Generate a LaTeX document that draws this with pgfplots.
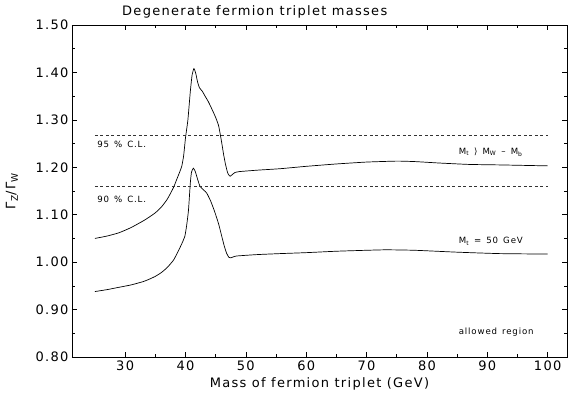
\documentclass[border=0pt]{standalone}
\usepackage{pgfplots}
\pgfplotsset{compat=1.18}
\usepackage{fontspec}
\setmainfont{DejaVu Sans}
\newfontfamily\plotfont[LetterSpace=10]{DejaVu Sans}
\newcommand{\bigf}{\plotfont\fontsize{13}{15}\selectfont}
\newcommand{\smallf}{\plotfont\fontsize{8.6}{10}\selectfont}
\pgfplotstableread{
x y
25 1.050
27 1.055
29 1.062
31 1.073
33 1.087
34 1.095
35 1.104
36 1.116
37 1.133
38 1.157
38.6 1.176
39.1 1.192
39.4 1.203
39.7 1.225
40.0 1.262
40.4 1.300
40.8 1.360
41.1 1.395
41.4 1.408
41.7 1.398
42.0 1.380
42.3 1.368
42.8 1.360
43.2 1.351
43.8 1.338
44.4 1.322
45.0 1.305
45.5 1.287
46.0 1.252
46.3 1.228
46.6 1.208
46.9 1.192
47.1 1.185
47.4 1.181
47.7 1.184
48.2 1.189
49 1.191
52 1.194
55.7 1.197
60 1.202
65 1.207
70 1.211
75 1.213
78 1.212
82 1.209
87 1.206
92 1.205
96 1.204
100 1.203
}\uppercurve
\pgfplotstableread{
x y
25 0.938
27 0.942
29 0.947
31 0.952
33 0.959
34 0.964
35 0.970
36 0.978
37 0.989
38 1.004
38.6 1.018
39.1 1.031
39.5 1.042
39.9 1.055
40.2 1.078
40.5 1.110
40.8 1.167
41.0 1.190
41.3 1.198
41.6 1.192
42.0 1.175
42.4 1.160
43.0 1.152
43.5 1.146
44.2 1.128
44.9 1.104
45.5 1.080
46.0 1.055
46.4 1.035
46.8 1.019
47.2 1.010
47.5 1.009
47.9 1.011
48.5 1.013
52 1.016
55.7 1.018
60 1.020
65 1.023
70 1.025
73.3 1.026
78 1.025
85 1.021
92 1.018
100 1.017
}\lowercurve
\pgfplotstableread{
x y
25 1.268
100 1.268
}\clnf
\pgfplotstableread{
x y
25 1.159
100 1.159
}\clnn
\begin{document}
\begin{tikzpicture}
\begin{axis}[
  scale only axis,
  width=495pt, height=332pt,
  xmin=21.2, xmax=103.2,
  ymin=0.8, ymax=1.5,
  xtick={30,40,50,60,70,80,90,100},
  ytick={0.8,0.9,1.0,1.1,1.2,1.3,1.4,1.5},
  minor x tick num=1,
  minor y tick num=1,
  tick align=inside,
  major tick length=5pt,
  minor tick length=3pt,
  axis line style={line width=0.8pt},
  every tick/.style={line width=0.6pt,black},
  /pgf/number format/assume math mode=true,
  tick label style={font=\bigf},
  yticklabel style={/pgf/number format/.cd, fixed, fixed zerofill, precision=2},
  xticklabel style={/pgf/number format/.cd, fixed, precision=0},
  xlabel={\bigf Mass of fermion triplet (GeV)},
  xlabel style={at={(rel axis cs:0.5,0)}, anchor=base, yshift=-31pt},
  ylabel={\bigf Γ\textsubscript{Z}/Γ\textsubscript{W}},
  ylabel style={at={(rel axis cs:0,0.5)}, anchor=center, yshift=60pt},
  clip=false,
]
\addplot[black, line width=0.7pt, smooth, tension=0.3] table[x=x,y=y] {\uppercurve};
\addplot[black, line width=0.7pt, smooth, tension=0.3] table[x=x,y=y] {\lowercurve};
\addplot[black!80, line width=0.5pt, dash pattern=on 3pt off 2.5pt] table[x=x,y=y] {\clnf};
\addplot[black!80, line width=0.5pt, dash pattern=on 3pt off 2.5pt] table[x=x,y=y] {\clnn};
\node[anchor=west, font=\smallf] at (axis cs:24.8,1.248) {95 \,\% \,C.L.};
\node[anchor=west, font=\smallf] at (axis cs:24.8,1.132) {90 \,\% \,C.L.};
\node[anchor=west, font=\smallf] at (axis cs:84.7,1.232) {M\textsubscript{t} \,⟩ \,M\textsubscript{W} \,– \,M\textsubscript{b}};
\node[anchor=west, font=\smallf] at (axis cs:84.7,1.044) {M\textsubscript{t} \,= \,50 \,GeV};
\node[anchor=west, font=\smallf] at (axis cs:84.7,0.8525) {allowed \,region};
\node[anchor=west, font=\bigf, inner sep=0pt] at (rel axis cs:0.101,1) [yshift=13pt] {Degenerate fermion triplet masses};
\coordinate (SW) at (rel axis cs:0,0);
\coordinate (NE) at (rel axis cs:1,1);
\end{axis}
\pgfresetboundingbox
\path ([shift={(-72pt,-39pt)}]SW) rectangle ([shift={(2pt,25pt)}]NE);
\end{tikzpicture}
\end{document}
